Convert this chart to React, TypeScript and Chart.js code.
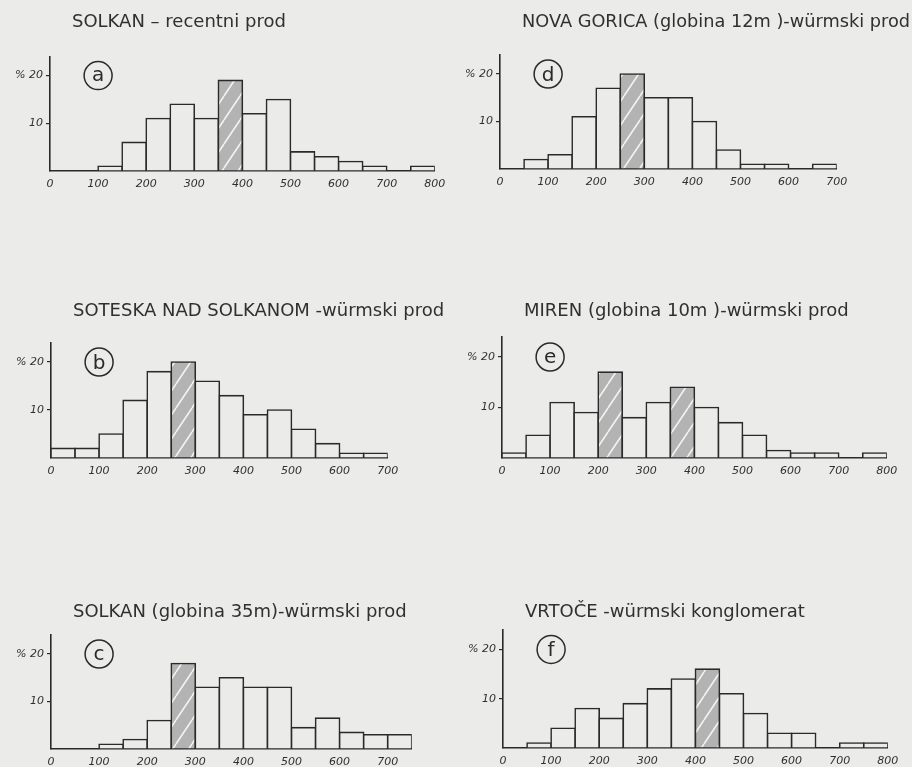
import React, { useEffect, useRef } from "react";
import { Chart, registerables } from "chart.js";

Chart.register(...registerables);

// ---------- data ----------
const BIN_STARTS = [0, 50, 100, 150, 200, 250, 300, 350, 400, 450, 500, 550, 600, 650, 700, 750];
const BIN_WIDTH = 50;

const TITLE_A = "SOLKAN – recentni prod";
const VALUES_A = [0, 0, 1, 6, 11, 14, 11, 19, 12, 15, 4, 3, 2, 1, 0, 1];
const HATCHED_A = [7];
const X_TICKS_A = [0, 100, 200, 300, 400, 500, 600, 700, 800];

const TITLE_D = "NOVA GORICA (globina 12m )-würmski prod";
const VALUES_D = [0, 2, 3, 11, 17, 20, 15, 15, 10, 4, 1, 1, 0, 1];
const HATCHED_D = [5];
const X_TICKS_D = [0, 100, 200, 300, 400, 500, 600, 700];

const TITLE_B = "SOTESKA NAD SOLKANOM -würmski prod";
const VALUES_B = [2, 2, 5, 12, 18, 20, 16, 13, 9, 10, 6, 3, 1, 1];
const HATCHED_B = [5];
const X_TICKS_B = [0, 100, 200, 300, 400, 500, 600, 700];

const TITLE_E = "MIREN (globina 10m )-würmski prod";
const VALUES_E = [1, 4.5, 11, 9, 17, 8, 11, 14, 10, 7, 4.5, 1.5, 1, 1, 0, 1];
const HATCHED_E = [4, 7];
const X_TICKS_E = [0, 100, 200, 300, 400, 500, 600, 700, 800];

const TITLE_C = "SOLKAN (globina 35m)-würmski prod";
const VALUES_C = [0, 0, 1, 2, 6, 18, 13, 15, 13, 13, 4.5, 6.5, 3.5, 3, 3];
const HATCHED_C = [5];
const X_TICKS_C = [0, 100, 200, 300, 400, 500, 600, 700];

const TITLE_F = "VRTOČE -würmski konglomerat";
const VALUES_F = [0, 1, 4, 8, 6, 9, 12, 14, 16, 11, 7, 3, 3, 0, 1, 1];
const HATCHED_F = [8];
const X_TICKS_F = [0, 100, 200, 300, 400, 500, 600, 700, 800];

const Y_TICKS = [10, 20];
const Y_TOP_LABEL = "% 20";

// ---------- layout / style ----------
const W = 912;
const H = 767;
const PAPER = "#ebebea";
const INK = "#2a2a2a";
const TEXT = "#303030";
const PX_PER_UNIT_X = 0.481;
const Y_MAX = 24;

type Panel = {
  title: string;
  letter: string;
  values: number[];
  hatched: number[];
  xticks: number[];
  x0: number;
  baseline: number;
  ppu: number;
  xmax: number;
  titleY: number;
  cellRight: number;
};

const PANELS: Panel[] = [
  { title: TITLE_A, letter: "a", values: VALUES_A, hatched: HATCHED_A, xticks: X_TICKS_A, x0: 50, baseline: 171, ppu: 4.77, xmax: 800, titleY: 22, cellRight: 456 },
  { title: TITLE_D, letter: "d", values: VALUES_D, hatched: HATCHED_D, xticks: X_TICKS_D, x0: 500, baseline: 169, ppu: 4.75, xmax: 700, titleY: 22, cellRight: 910 },
  { title: TITLE_B, letter: "b", values: VALUES_B, hatched: HATCHED_B, xticks: X_TICKS_B, x0: 51, baseline: 458, ppu: 4.8, xmax: 700, titleY: 311, cellRight: 456 },
  { title: TITLE_E, letter: "e", values: VALUES_E, hatched: HATCHED_E, xticks: X_TICKS_E, x0: 502, baseline: 458, ppu: 5.05, xmax: 800, titleY: 311, cellRight: 910 },
  { title: TITLE_C, letter: "c", values: VALUES_C, hatched: HATCHED_C, xticks: X_TICKS_C, x0: 51, baseline: 749, ppu: 4.75, xmax: 750, titleY: 612, cellRight: 456 },
  { title: TITLE_F, letter: "f", values: VALUES_F, hatched: HATCHED_F, xticks: X_TICKS_F, x0: 503, baseline: 748, ppu: 4.93, xmax: 800, titleY: 612, cellRight: 910 },
];

function makeHatch(): CanvasPattern | string {
  const c = document.createElement("canvas");
  const tw = 16;
  const th = 24;
  c.width = tw;
  c.height = th;
  const g = c.getContext("2d");
  if (!g) return "#b5b5b5";
  g.fillStyle = "#b3b3b3";
  g.fillRect(0, 0, tw, th);
  g.strokeStyle = "#f3f3f3";
  g.lineWidth = 1.6;
  g.beginPath();
  for (const dx of [-tw, 0, tw]) {
    g.moveTo(dx, th);
    g.lineTo(dx + tw, 0);
  }
  g.stroke();
  const p = g.createPattern(c, "repeat");
  return p || "#b5b5b5";
}

function PanelChart({ p }: { p: Panel }) {
  const ref = useRef<HTMLCanvasElement | null>(null);
  useEffect(() => {
    const canvas = ref.current;
    if (!canvas) return;
    const hatch = makeHatch();
    const bw = 1.6;
    const right = p.x0 + p.xmax * PX_PER_UNIT_X;
    const top = p.baseline - Y_MAX * p.ppu;

    const annot = {
      id: "annot" + p.letter,
      afterDraw(chart: any) {
        const ctx: CanvasRenderingContext2D = chart.ctx;
        const xs = chart.scales.x;
        const ys = chart.scales.y;
        ctx.save();
        // title
        ctx.fillStyle = TEXT;
        ctx.font = '18px "DejaVu Sans"';
        ctx.textAlign = "left";
        ctx.textBaseline = "middle";
        const tx = chart.chartArea.left + 22;
        ctx.fillText(p.title, tx, p.titleY, p.cellRight - tx);
        // circled letter
        const cx = xs.getPixelForValue(100);
        const cy = ys.getPixelForValue(20);
        ctx.beginPath();
        ctx.arc(cx, cy, 14, 0, Math.PI * 2);
        ctx.lineWidth = 1.5;
        ctx.strokeStyle = INK;
        ctx.stroke();
        ctx.fillStyle = INK;
        ctx.font = '20px "DejaVu Sans"';
        ctx.textAlign = "center";
        ctx.textBaseline = "alphabetic";
        const isTall = "bdf".includes(p.letter);
        ctx.fillText(p.letter, cx, cy + (isTall ? 7 : 5.5));
        ctx.restore();
      },
    };

    const chart = new Chart(canvas, {
      type: "bar",
      data: {
        datasets: [
          {
            data: p.values.map((v, i) => ({ x: BIN_STARTS[i] + BIN_WIDTH / 2, y: v === 0 ? null : v })) as any,
            backgroundColor: p.values.map((_, i) => (p.hatched.includes(i) ? hatch : PAPER)) as any,
            borderColor: INK,
            borderWidth: bw,
            borderSkipped: false,
            inflateAmount: bw / 2,
            barPercentage: 1,
            categoryPercentage: 1,
          } as any,
        ],
      },
      options: {
        responsive: false,
        animation: false,
        events: [],
        layout: { padding: { left: 0, top: top, right: W - right, bottom: 0 } },
        plugins: { legend: { display: false }, tooltip: { enabled: false }, title: { display: false } },
        scales: {
          x: {
            type: "linear",
            min: 0,
            max: p.xmax,
            offset: false,
            grid: { display: false, drawTicks: false },
            border: { display: true, color: INK, width: 1.6 },
            ticks: {
              padding: 7,
              color: TEXT,
              maxRotation: 0,
              autoSkip: false,
              font: { family: '"DejaVu Sans"', size: 11, style: "italic" },
            },
            afterBuildTicks: (s: any) => {
              s.ticks = p.xticks.map((v) => ({ value: v }));
            },
            afterFit: (s: any) => {
              s.height = H - p.baseline;
            },
          },
          y: {
            type: "linear",
            min: 0,
            max: Y_MAX,
            grid: { display: true, drawOnChartArea: false, drawTicks: true, tickLength: 4, color: INK, lineWidth: 1.2 },
            border: { display: true, color: INK, width: 1.6 },
            ticks: {
              padding: 3,
              color: TEXT,
              font: { family: '"DejaVu Sans"', size: 11, style: "italic" },
              callback: (v: any) => (v === 20 ? Y_TOP_LABEL : String(v)),
            },
            afterBuildTicks: (s: any) => {
              s.ticks = Y_TICKS.map((v) => ({ value: v }));
            },
            afterFit: (s: any) => {
              s.width = p.x0;
            },
          },
        },
      } as any,
      plugins: [annot as any],
    });
    return () => chart.destroy();
  }, [p]);
  return (
    <canvas
      ref={ref}
      width={W}
      height={H}
      style={{ position: "absolute", left: 0, top: 0, width: W, height: H }}
    />
  );
}

export default function App() {
  return (
    <div style={{ position: "absolute", left: 0, top: 0, width: W, height: H, background: PAPER, overflow: "hidden" }}>
      {PANELS.map((p, i) => (
        <PanelChart key={i} p={p} />
      ))}
    </div>
  );
}
